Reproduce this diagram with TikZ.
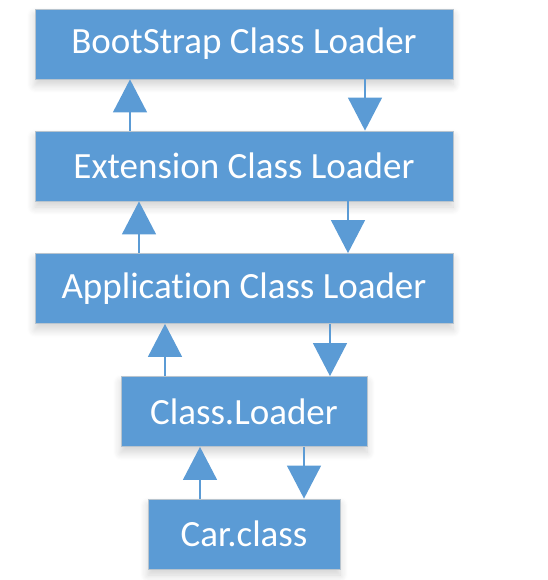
\documentclass[tikz,border=0pt]{standalone}
\usepackage{fontspec}
\setmainfont{Carlito}[Ligatures=NoCommon]
\usetikzlibrary{arrows.meta}
\usetikzlibrary{shadows.blur}
\definecolor{loaderblue}{HTML}{5B9BD5}
\definecolor{loaderedge}{HTML}{B8C4CE}
\tikzset{
    loader/.style={
        rectangle,
        fill=loaderblue,
        draw=loaderedge,
        line width=0.8pt,
        text=white,
        font=\fontsize{37}{44}\selectfont,
        minimum height=70pt,
        inner sep=0pt,
        blur shadow={shadow xshift=0pt,shadow yshift=-6pt,
            shadow blur radius=8pt,shadow opacity=18,
            shadow blur steps=8}},
    delegate/.style={
        draw=loaderblue,
        line width=1.3pt,
        -{Triangle[width=34pt,length=33pt]},
        loaderblue}}

\begin{document}
\begin{tikzpicture}[x=1pt,y=-1pt]
        \useasboundingbox (0,0) rectangle (547,580);

        \node[loader,minimum width=418pt] (q1) at (244,44) {BootStrap Class Loader};
        \node[loader,minimum width=418pt] (q2) at (244,166) {Extension Class Loader};
        \node[loader,minimum width=418pt] (q3) at (244,288.5) {Application Class Loader};
        \node[loader,minimum width=246pt] (q4) at (244,411.5) {Class.Loader};
        \node[loader,minimum width=192pt] (q5) at (244,534) {Car.class};

        % upwards: ask the parent
        \draw[delegate] ([xshift=-114pt]q2.north) -- ([xshift=-114pt]q1.south);
        \draw[delegate] ([xshift=-105pt]q3.north) -- ([xshift=-105pt]q2.south);
        \draw[delegate] ([xshift=-79pt]q4.north) -- ([xshift=-79pt]q3.south);
        \draw[delegate] ([xshift=-44pt]q5.north) -- ([xshift=-44pt]q4.south);

        % downwards: hand back
        \draw[delegate] ([xshift=121pt]q1.south) -- ([xshift=121pt]q2.north);
        \draw[delegate] ([xshift=104pt]q2.south) -- ([xshift=104pt]q3.north);
        \draw[delegate] ([xshift=86pt]q3.south) -- ([xshift=86pt]q4.north);
        \draw[delegate] ([xshift=60pt]q4.south) -- ([xshift=60pt]q5.north);

    \end{tikzpicture}
\end{document}
